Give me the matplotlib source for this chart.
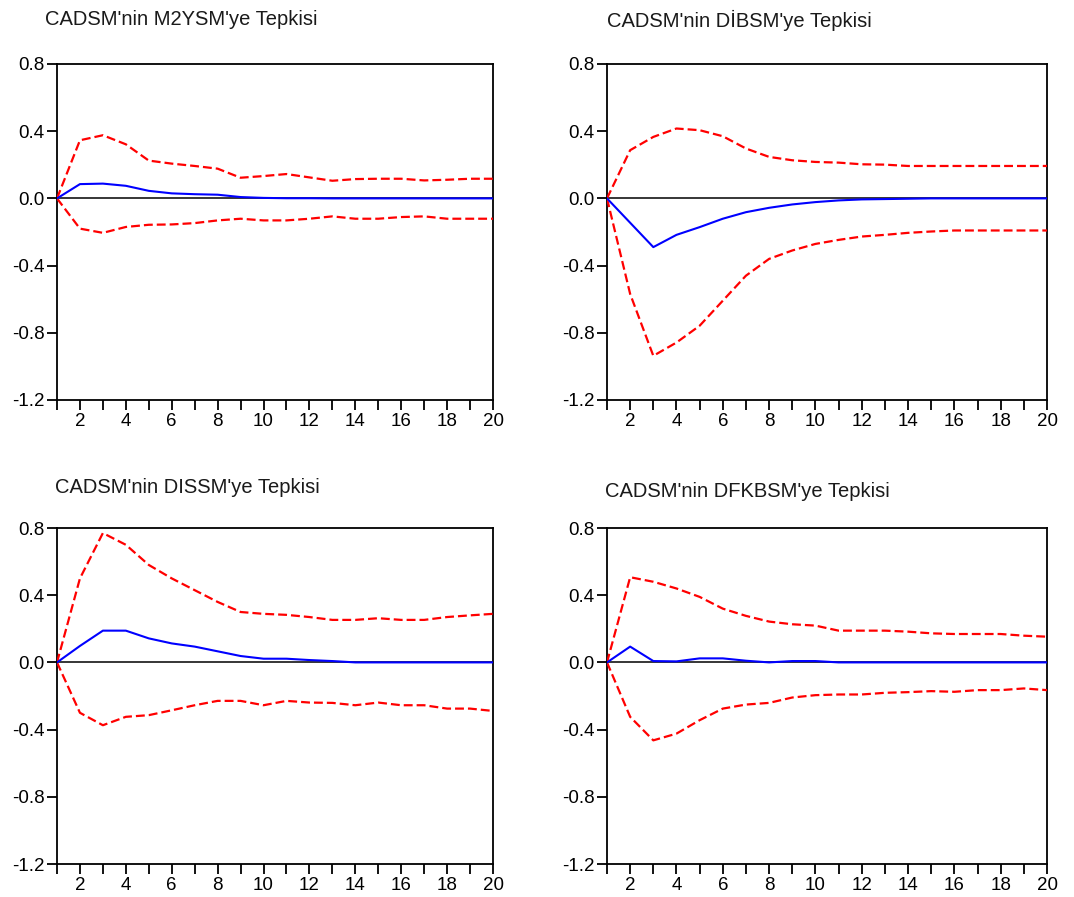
import matplotlib
matplotlib.use("Agg")
import matplotlib.pyplot as plt
from matplotlib.ticker import FixedLocator

plt.rcParams["font.family"] = ["Liberation Sans", "DejaVu Sans"]

periods = list(range(1, 21))

titles = [
    "CADSM'nin M2YSM'ye Tepkisi",
    "CADSM'nin DİBSM'ye Tepkisi",
    "CADSM'nin DISSM'ye Tepkisi",
    "CADSM'nin DFKBSM'ye Tepkisi",
]

# Impulse responses and +/- 2 S.E. bands
m2ysm_resp = [0.0, 0.085, 0.088, 0.075, 0.045, 0.030, 0.025, 0.022, 0.008, 0.003,
              0.001, 0.001, 0.0, 0.0, 0.0, 0.0, 0.0, 0.0, 0.0, 0.0]
m2ysm_upper = [0.0, 0.346, 0.376, 0.322, 0.225, 0.207, 0.193, 0.177, 0.123, 0.133,
               0.145, 0.125, 0.105, 0.115, 0.117, 0.117, 0.107, 0.111, 0.117, 0.117]
m2ysm_lower = [0.0, -0.180, -0.205, -0.170, -0.157, -0.155, -0.147, -0.131, -0.121, -0.131,
               -0.131, -0.121, -0.107, -0.121, -0.121, -0.111, -0.107, -0.121, -0.121, -0.121]

dibsm_resp = [0.0, -0.145, -0.290, -0.217, -0.171, -0.121, -0.082, -0.056, -0.036, -0.022,
              -0.012, -0.006, -0.004, -0.002, 0.0, 0.0, 0.0, 0.0, 0.0, 0.0]
dibsm_upper = [0.0, 0.287, 0.366, 0.416, 0.406, 0.370, 0.297, 0.247, 0.227, 0.217,
               0.213, 0.203, 0.201, 0.193, 0.193, 0.193, 0.193, 0.193, 0.193, 0.193]
dibsm_lower = [0.0, -0.569, -0.937, -0.858, -0.758, -0.609, -0.460, -0.360, -0.310, -0.271,
               -0.247, -0.227, -0.217, -0.205, -0.197, -0.191, -0.191, -0.191, -0.191, -0.191]

dissm_resp = [0.0, 0.098, 0.189, 0.189, 0.143, 0.113, 0.094, 0.066, 0.038, 0.022,
              0.022, 0.014, 0.008, 0.0, 0.0, 0.0, 0.0, 0.0, 0.0, 0.0]
dissm_upper = [0.0, 0.500, 0.770, 0.700, 0.580, 0.500, 0.430, 0.360, 0.300, 0.289,
               0.283, 0.270, 0.253, 0.253, 0.263, 0.253, 0.253, 0.270, 0.280, 0.289]
dissm_lower = [0.0, -0.300, -0.374, -0.324, -0.314, -0.285, -0.255, -0.229, -0.229, -0.255,
               -0.229, -0.239, -0.241, -0.255, -0.239, -0.255, -0.255, -0.275, -0.275, -0.289]

dfkbsm_resp = [0.0, 0.094, 0.008, 0.006, 0.024, 0.024, 0.010, 0.0, 0.008, 0.008,
               0.0, 0.0, 0.0, 0.0, 0.0, 0.0, 0.0, 0.0, 0.0, 0.0]
dfkbsm_upper = [0.0, 0.507, 0.480, 0.440, 0.390, 0.320, 0.277, 0.243, 0.227, 0.219,
                0.189, 0.189, 0.189, 0.183, 0.173, 0.169, 0.169, 0.169, 0.159, 0.153]
dfkbsm_lower = [0.0, -0.324, -0.464, -0.424, -0.344, -0.275, -0.251, -0.241, -0.209, -0.195,
                -0.191, -0.191, -0.181, -0.177, -0.171, -0.175, -0.165, -0.165, -0.155, -0.165]

responses = [m2ysm_resp, dibsm_resp, dissm_resp, dfkbsm_resp]
uppers = [m2ysm_upper, dibsm_upper, dissm_upper, dfkbsm_upper]
lowers = [m2ysm_lower, dibsm_lower, dissm_lower, dfkbsm_lower]

y_ticks = [-1.2, -0.8, -0.4, 0.0, 0.4, 0.8]
y_ticklabels = ["-1.2", "-0.8", "-0.4", "0.0", "0.4", "0.8"]
x_ticks = list(range(2, 21, 2))

W, H = 1074, 897
fig = plt.figure(figsize=(W / 100, H / 100), dpi=100)

# panel frames in pixels: left, top, right, bottom
frames = [
    (57, 64, 493, 400),
    (607, 64, 1047, 400),
    (57, 528, 493, 864),
    (607, 528, 1047, 864),
]
# title anchor (left x, baseline y) in pixels
title_pos = [(45, 25), (607, 27), (55, 493), (605, 497)]

for i in range(4):
    l, t, r, b = frames[i]
    ax = fig.add_axes([l / W, 1 - b / H, (r - l) / W, (b - t) / H])
    ax.axhline(0.0, color="black", lw=1.1, zorder=2)
    ax.plot(periods, uppers[i], color="#ff0000", lw=1.6,
            linestyle=(0, (4, 1.8)), zorder=3)
    ax.plot(periods, lowers[i], color="#ff0000", lw=1.6,
            linestyle=(0, (4, 1.8)), zorder=3)
    ax.plot(periods, responses[i], color="#0000ff", lw=1.5, zorder=4)

    ax.set_xlim(1, 20)
    ax.set_ylim(-1.2, 0.8)
    ax.set_yticks(y_ticks)
    ax.set_yticklabels(y_ticklabels)
    ax.set_xticks(x_ticks)
    ax.set_xticklabels([str(v) for v in x_ticks])
    ax.xaxis.set_minor_locator(FixedLocator(list(range(1, 21, 2))))
    ax.tick_params(axis="both", which="both", direction="out", length=7,
                   width=1.3, color="black", labelsize=13.5, pad=2)
    ax.tick_params(axis="x", which="minor", length=7)
    for sp in ax.spines.values():
        sp.set_linewidth(1.3)
        sp.set_color("black")

    tx, ty = title_pos[i]
    fig.text(tx / W, 1 - ty / H, titles[i], fontsize=14.5,
             ha="left", va="baseline", color="#1a1a1a")

fig.savefig("out.png", dpi=100, facecolor="white")
